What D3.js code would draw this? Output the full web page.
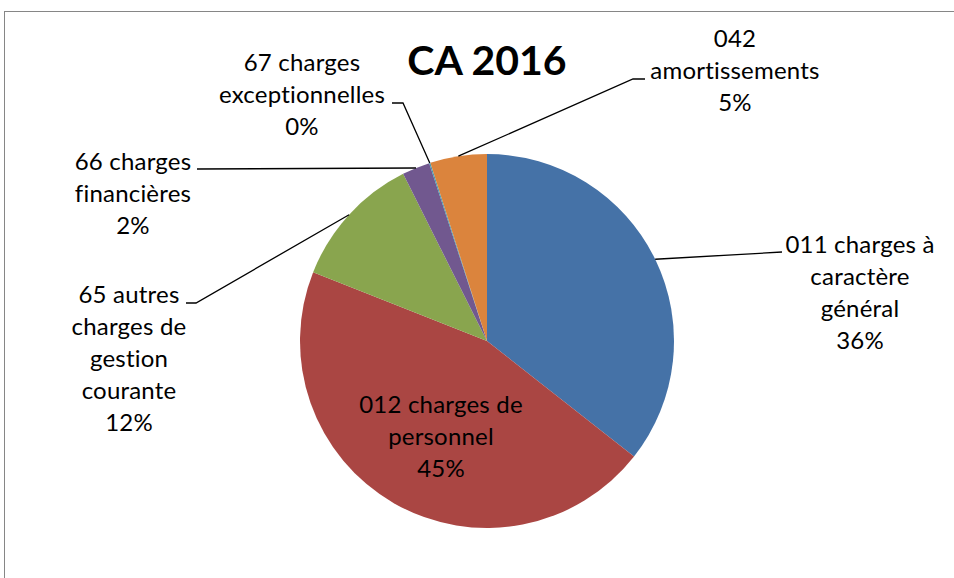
<!DOCTYPE html>
<html>
<head>
<meta charset="utf-8">
<script src="https://cdn.jsdelivr.net/npm/d3@7"></script>
<style>
  html, body { margin: 0; padding: 0; background: #fff; }
  svg { display: block; }
  text { font-family: Lato, "Open Sans", sans-serif; fill: #000; }
</style>
</head>
<body>
<svg id="chart" width="954" height="578"></svg>
<script>
// ---- data ----
const title = "CA 2016";
const categories = [
  "011 charges à\ncaractère\ngénéral",
  "012 charges de\npersonnel",
  "65 autres\ncharges de\ngestion\ncourante",
  "66 charges\nfinancières",
  "67 charges\nexceptionnelles",
  "042\namortissements"
];
const values = [35.6, 45.4, 11.6, 2.4, 0.1, 4.9];
const colors = ["#4572A7", "#AA4643", "#89A54E", "#71588F", "#4198AF", "#DB843D"];

// ---- layout (label placement, not data) ----
const labelLayout = [
  { x: 860, y: 253, leader: [[782, 252]] },
  { x: 441, y: 413, leader: null },
  { x: 129, y: 303, leader: [[196, 303], [186, 303]] },
  { x: 133, y: 170, leader: [[197, 169]] },
  { x: 302, y: 71,  leader: [[403, 103], [392, 103]] },
  { x: 735, y: 47,  leader: [[633, 79], [645, 79]] }
];

const W = 954, H = 578;
const cx = 487, cy = 341, R = 187;
const lineH = 32;

const svg = d3.select("#chart");

// border
svg.append("rect")
  .attr("x", 4.5).attr("y", 11.5)
  .attr("width", 1000).attr("height", 1000)
  .attr("fill", "none").attr("stroke", "#868686").attr("stroke-width", 1);

const total = d3.sum(values);
const pie = d3.pie().sort(null).value(d => d)(values);
const arc = d3.arc().innerRadius(0).outerRadius(R);

const g = svg.append("g").attr("transform", `translate(${cx},${cy})`);
g.selectAll("path.slice")
  .data(pie)
  .join("path")
  .attr("class", "slice")
  .attr("d", arc)
  .attr("fill", (d, i) => colors[i]);

// leader lines
const fmt = d3.format(".0%");
pie.forEach((d, i) => {
  const lay = labelLayout[i];
  if (!lay.leader) return;
  const mid = (d.startAngle + d.endAngle) / 2;
  const p0 = [cx + R * Math.sin(mid), cy - R * Math.cos(mid)];
  const pts = [p0].concat(lay.leader);
  svg.append("path")
    .attr("d", d3.line()(pts))
    .attr("fill", "none")
    .attr("stroke", "#000")
    .attr("stroke-width", 1.3);
});

// labels
pie.forEach((d, i) => {
  const lay = labelLayout[i];
  const lines = categories[i].split("\n").concat([fmt(values[i] / total)]);
  const t = svg.append("text")
    .attr("text-anchor", "middle")
    .attr("font-size", 24)
    .attr("letter-spacing", 0.2);
  lines.forEach((ln, k) => {
    t.append("tspan").attr("x", lay.x).attr("y", lay.y + k * lineH).text(ln);
  });
});

// title
svg.append("text")
  .attr("x", 487).attr("y", 75)
  .attr("text-anchor", "middle")
  .attr("font-size", 41)
  .attr("font-weight", "bold")
  .text(title);
</script>
</body>
</html>
